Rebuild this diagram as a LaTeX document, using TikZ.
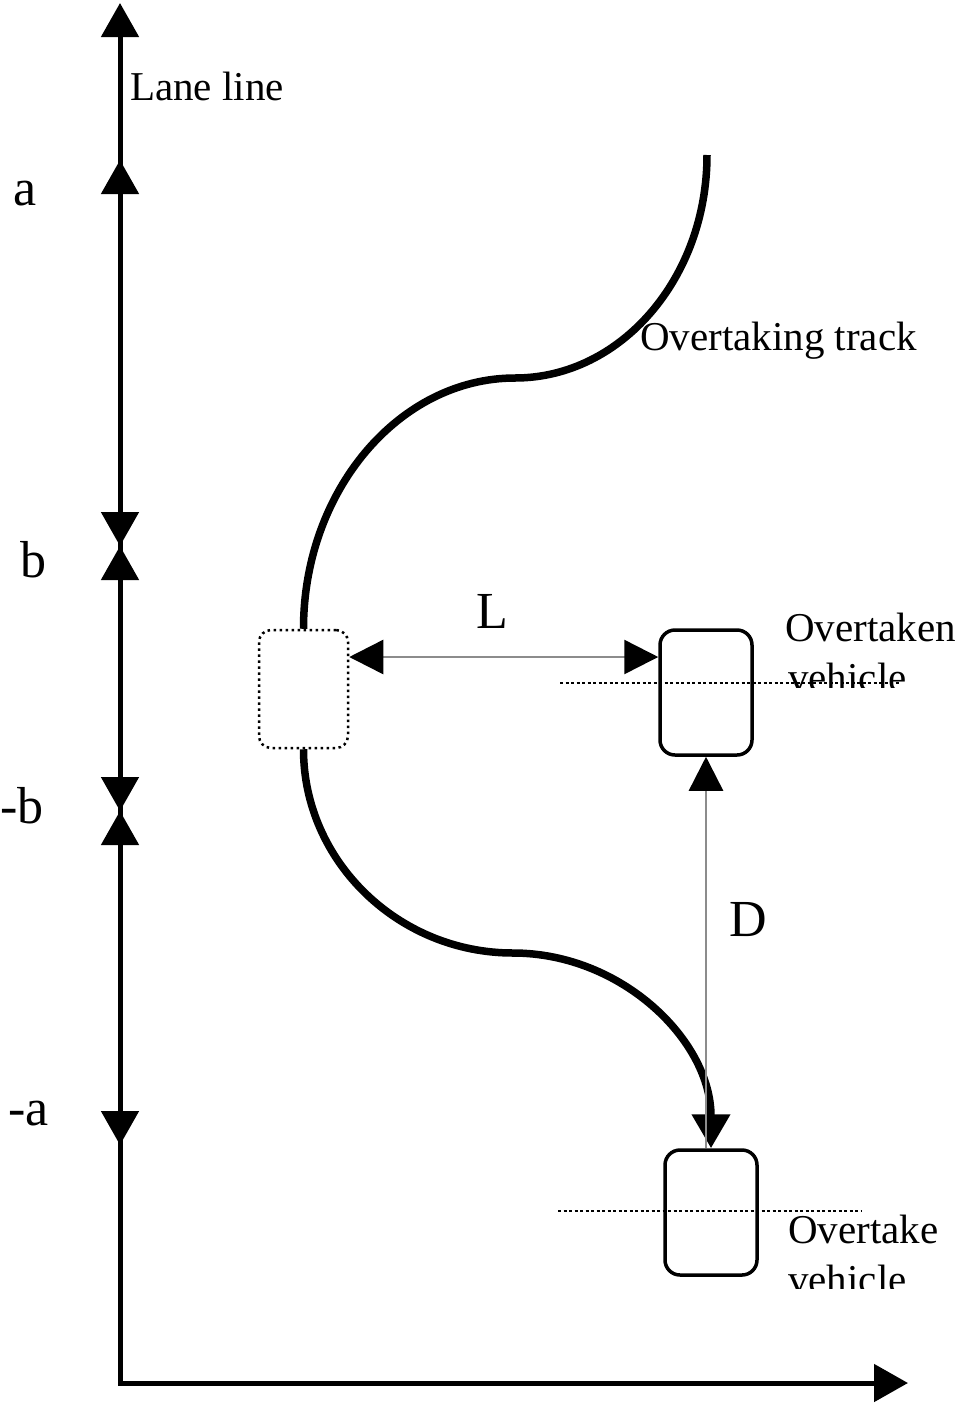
\documentclass[tikz,border=0pt]{standalone}
\usepackage{fontspec}
\setmainfont{Liberation Serif}
\usetikzlibrary{arrows.meta}
\tikzset{
  tri/.tip={Triangle[length=34pt,width=37pt]},
  gtri/.tip={Triangle[length=34pt,width=34pt,color=black]},
  axis/.style={line width=5pt},
  track/.style={line width=7.5pt},
  carbox/.style={draw,line width=3.5pt,rounded corners=15pt,minimum width=92pt,minimum height=125pt,inner sep=0pt},
  ghostbox/.style={draw,line width=2.5pt,line cap=butt,dash pattern=on 2.5pt off 3.5pt,rounded corners=12pt,minimum width=89pt,minimum height=118pt,inner sep=0pt},
  dimline/.style={line width=2.5pt,black!45},
  midline/.style={line width=2.5pt,line cap=butt,dash pattern=on 3pt off 2.5pt},
  lbl/.style={inner sep=0pt,anchor=base west,font=\fontsize{52}{60}\selectfont},
  txt/.style={inner sep=0pt,anchor=base west,font=\fontsize{41}{50}\selectfont},
}
\begin{document}
\begin{tikzpicture}[x=1pt,y=-1pt,line join=miter]
\useasboundingbox (0,0) rectangle (961,1406);
% axes and lane marks
\coordinate (O) at (120,1383);
\coordinate (Y) at (120,3);
\coordinate (X) at (908,1383);
\coordinate (A) at (120,160);
\coordinate (B) at (120,546);
\coordinate (Bm) at (120,811);
\coordinate (Am) at (120,1145);
\draw[axis,tri-tri] (X) -- (O) -- (Y);
\foreach \p/\q in {A/B,B/Bm,Bm/Am}
  {\draw[axis,tri-tri] (\p) -- (\q);}
\foreach \t/\x/\y in {a/13/205,b/20/577,-b/0/823,-a/8/1125}
  {\node[lbl] at (\x,\y) {\t};}
\node[txt] (lane) at (130,100) {Lane line};
% vehicles
\node[ghostbox] (ghost) at (303.5,689) {};
\node[carbox] (overtaken) at (706,692.5) {};
\node[carbox] (overtake) at (711,1212.5) {};
% track
\draw[track] (ghost.north) .. controls (303.5,491) and (399,378) .. (515,378)
  .. controls (621,378) and (707,278) .. (707,155);
\draw[track,-tri] (ghost.south) .. controls (303.5,861) and (398,953) .. (513,953)
  .. controls (622,953) and (overtake.north |- 0,1041) .. (overtake.north);
\node[txt] (tracklbl) at (640,350) {Overtaking track};
% distances
\coordinate (Lrow) at (0,657);
\draw[dimline,gtri-gtri] (ghost.east |- Lrow) -- (overtaken.west |- Lrow);
\node[lbl] (Llbl) at (476,628) {L};
\draw[dimline,gtri-] (overtaken.south) -- (overtaken.south |- overtake.north);
\node[lbl] (Dlbl) at (729,936) {D};
% vehicle labels
\begin{scope}
\clip (770,590) rectangle (961,687);
\node[txt] (takenlbl) at (785,641) {Overtaken};
\node[txt] at (788,691) {vehicle};
\end{scope}
\begin{scope}
\clip (770,1200) rectangle (961,1288);
\node[txt] (takelbl) at (788,1243) {Overtake};
\node[txt] at (788,1293) {vehicle};
\end{scope}
\draw[midline] (560,683) -- (900,683);
\draw[midline] (558,1211) -- (862,1211);
\end{tikzpicture}
\end{document}
